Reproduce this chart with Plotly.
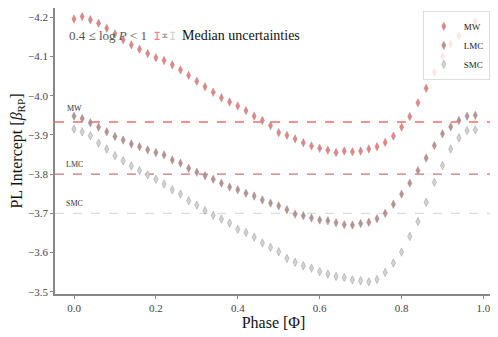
import numpy as np
import plotly.graph_objects as go

# phase grid
phase = [round(0.02 * i, 2) for i in range(50)]

# PL intercepts
mw = [-4.196, -4.202, -4.194, -4.185, -4.172, -4.158, -4.143, -4.130, -4.119, -4.108,
      -4.097, -4.090, -4.079, -4.066, -4.052, -4.037, -4.023, -4.009, -3.995, -3.984,
      -3.974, -3.962, -3.948, -3.937, -3.924, -3.906, -3.899, -3.890, -3.880, -3.872,
      -3.866, -3.861, -3.855, -3.859, -3.857, -3.859, -3.864, -3.870, -3.881, -3.897,
      -3.920, -3.947, -3.982, -4.019, -4.060, -4.101, -4.132, -4.153, -4.175, -4.189]
lmc = [-3.948, -3.942, -3.931, -3.920, -3.908, -3.896, -3.887, -3.877, -3.870, -3.862,
       -3.855, -3.849, -3.836, -3.828, -3.815, -3.805, -3.796, -3.787, -3.777, -3.767,
       -3.760, -3.751, -3.744, -3.734, -3.726, -3.719, -3.709, -3.698, -3.694, -3.688,
       -3.683, -3.681, -3.676, -3.671, -3.670, -3.674, -3.677, -3.686, -3.700, -3.723,
       -3.749, -3.777, -3.809, -3.841, -3.873, -3.903, -3.921, -3.937, -3.948, -3.950]
smc = [-3.915, -3.908, -3.898, -3.879, -3.864, -3.847, -3.834, -3.821, -3.809, -3.798,
       -3.787, -3.775, -3.760, -3.749, -3.732, -3.721, -3.707, -3.695, -3.685, -3.675,
       -3.659, -3.651, -3.639, -3.624, -3.613, -3.602, -3.585, -3.575, -3.566, -3.560,
       -3.551, -3.545, -3.539, -3.536, -3.530, -3.528, -3.525, -3.531, -3.549, -3.573,
       -3.601, -3.641, -3.679, -3.728, -3.779, -3.822, -3.864, -3.893, -3.911, -3.913]

# reference intercepts (dashed lines)
ref_names = ["MW", "LMC", "SMC"]
ref_vals = [-3.933, -3.800, -3.700]

# median uncertainties
med_err = [0.009, 0.004, 0.009]

colors = ["#f08080", "#bc8f8f", "#d3d3d3"]
line_colors = ["#f06e6e", "#c07878", "#dcdcdc"]
series = [mw, lmc, smc]

FONT = "Liberation Serif"

fig = go.Figure()

for name, ys, c in zip(ref_names, series, colors):
    fig.add_trace(go.Scatter(
        x=phase, y=ys, mode="markers", name=name,
        marker=dict(symbol="diamond-tall", size=6, color=c,
                    line=dict(color="#999999", width=0.5)),
    ))

for name, v, lc in zip(ref_names, ref_vals, line_colors):
    fig.add_hline(y=v, line=dict(color=lc, width=1.3, dash="dash"), layer="below")
    fig.add_annotation(x=0.0, y=v, text=name, showarrow=False, xanchor="center",
                       yanchor="bottom", yshift=3 if name != "MW" else 7,
                       font=dict(family=FONT, size=8, color="#333333"))

# median uncertainty glyphs next to the label
err_x = [0.203, 0.222, 0.241]
for ex, e, c in zip(err_x, med_err, colors):
    fig.add_trace(go.Scatter(
        x=[ex], y=[-4.153], mode="markers", showlegend=False, hoverinfo="skip",
        marker=dict(size=1, color=c),
        error_y=dict(type="data", array=[e], visible=True, color=c,
                     thickness=1.2, width=2.5),
    ))

fig.add_annotation(x=-0.017, y=-4.153, xref="x", yref="y", showarrow=False,
                   xanchor="left", text="0.4 ≤ log <i>P</i> < 1",
                   font=dict(family=FONT, size=13, color="#555555"))
fig.add_annotation(x=0.26, y=-4.153, xref="x", yref="y", showarrow=False,
                   xanchor="left", text="Median uncertainties",
                   font=dict(family=FONT, size=14, color="#111111"))

# page body adds 8px around the plot, so the figure is 8px smaller
fig.update_layout(
    width=490, height=329,
    margin=dict(l=47, r=6, t=0, b=43),
    paper_bgcolor="white", plot_bgcolor="white",
    font=dict(family=FONT, size=11, color="#333333"),
    showlegend=True,
    legend=dict(x=0.995, y=0.99, xanchor="right", yanchor="top",
                bgcolor="rgba(255,255,255,0.8)", bordercolor="#dddddd",
                borderwidth=1, font=dict(family=FONT, size=9, color="#222222"),
                itemwidth=30, tracegroupgap=0),
)

fig.update_xaxes(
    range=[-0.0464, 1.0208], tickvals=[0, 0.2, 0.4, 0.6, 0.8, 1.0],
    tickformat=".1f", ticks="outside", ticklen=3, tickcolor="#888888",
    showline=True, linecolor="#888888", linewidth=1.5, mirror=True,
    showgrid=False, zeroline=False, automargin=False,
    title=dict(text="Phase [Φ]", font=dict(family=FONT, size=16, color="#111111"),
               standoff=4),
    tickfont=dict(family=FONT, size=11, color="#444444"),
)
fig.update_yaxes(
    range=[-3.494, -4.224], tickvals=[-4.2, -4.1, -4.0, -3.9, -3.8, -3.7, -3.6, -3.5],
    tickformat=".1f", ticks="outside", ticklen=3, tickcolor="#888888",
    showline=True, linecolor="#888888", linewidth=1.5, mirror=True,
    showgrid=False, zeroline=False, automargin=False,
    title=dict(text="PL Intercept [<i>β</i><sub>RP</sub>]",
               font=dict(family=FONT, size=16, color="#111111"), standoff=4),
    tickfont=dict(family=FONT, size=11, color="#444444"),
)

fig.write_html("out.html")
